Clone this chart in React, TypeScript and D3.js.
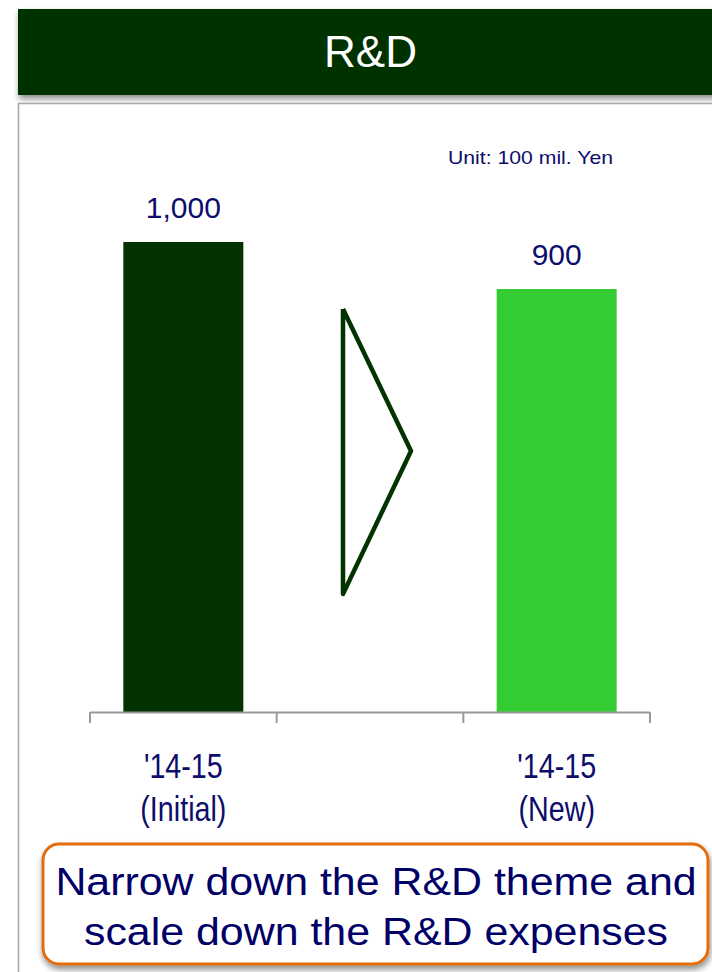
import React from "react";
import * as d3 from "d3";

// Chart data
const categories = ["'14-15\n(Initial)", "", "'14-15\n(New)"];
const values: (number | null)[] = [1000, null, 900];
const barColors = ["#033300", "none", "#33cc33"];
const valueLabels = ["1,000", "", "900"];
const title = "R&D";
const unitText = "Unit: 100 mil. Yen";
const calloutLines = ["Narrow down the R&D theme and", "scale down the R&D expenses"];

const W = 712;
const H = 972;
const NAVY = "#0d0d6b";
const SANS = "'Liberation Sans', Arial, sans-serif";

export default function App() {
  const x = d3.scaleBand<string>()
    .domain(categories.map((_, i) => String(i)))
    .range([90, 650])
    .paddingInner(0)
    .paddingOuter(0);
  const y = d3.scaleLinear().domain([0, 1000]).range([712, 242]);

  const bw = 120;
  const centerOf = (i: number) => (x(String(i)) as number) + x.bandwidth() / 2;
  const tickXs = [...categories.map((_, i) => x(String(i)) as number), 650];

  // Arrow (outlined triangle) in the empty middle band
  const mid = centerOf(1);
  const arrow = d3.line()([
    [mid - 27, 309],
    [mid + 41, 451],
    [mid - 27, 594],
    [mid - 27, 309],
  ]);

  return (
    <svg width={W} height={H} style={{ position: "absolute", left: 0, top: 0 }}>
      <defs>
        <filter id="sh" x="-5%" y="-20%" width="115%" height="150%">
          <feGaussianBlur in="SourceAlpha" stdDeviation="3" />
          <feOffset dx="1" dy="4" result="b" />
          <feComponentTransfer><feFuncA type="linear" slope="0.45" /></feComponentTransfer>
          <feMerge><feMergeNode /><feMergeNode in="SourceGraphic" /></feMerge>
        </filter>
      </defs>
      <rect x={0} y={0} width={W} height={H} fill="#fff" />

      {/* Title bar */}
      <rect x={18} y={9} width={W} height={86} fill="#033300" filter="url(#sh)" />
      <text x={370.5} y={67} textAnchor="middle" fill="#fff" fontSize={44} fontFamily={SANS}>{title}</text>

      {/* Panel border */}
      <rect x={18.5} y={103.5} width={W} height={H} fill="none" stroke="#a6a6a6" strokeWidth={1.5} />

      <text x={448} y={164} fill={NAVY} fontSize={18.5} fontFamily={SANS} textLength={165} lengthAdjust="spacingAndGlyphs">
        {unitText}
      </text>

      {/* Bars */}
      {values.map((v, i) =>
        v == null ? null : (
          <g key={i}>
            <rect x={centerOf(i) - bw / 2} y={y(v)} width={bw} height={y(0) - y(v)} fill={barColors[i]} />
            <text x={centerOf(i)} y={y(v) - 24} textAnchor="middle" fill={NAVY} fontSize={30} fontFamily={SANS}>
              {valueLabels[i]}
            </text>
          </g>
        )
      )}

      <path d={arrow || ""} fill="none" stroke="#033300" strokeWidth={4.5} strokeLinejoin="round" />

      {/* Category axis */}
      <line x1={tickXs[0]} x2={tickXs[tickXs.length - 1]} y1={712.5} y2={712.5} stroke="#999" strokeWidth={2} />
      {tickXs.map((t, i) => (
        <line key={i} x1={t} x2={t} y1={712} y2={723} stroke="#999" strokeWidth={2} />
      ))}
      {categories.map((c, i) =>
        c ? (
          <g key={i} transform={`translate(${centerOf(i)},0) scale(0.82,1)`}>
            <text textAnchor="middle" fill={NAVY} fontSize={35} fontFamily={SANS}>
              {c.split("\n").map((ln, j) => (
                <tspan key={j} x={0} y={778 + j * 43}>{ln}</tspan>
              ))}
            </text>
          </g>
        ) : null
      )}

      {/* Callout */}
      <rect x={43} y={844} width={665} height={120} rx={16} fill="#fff" stroke="#e46c0a" strokeWidth={3} filter="url(#sh)" />
      {calloutLines.map((ln, j) => (
        <g key={j} transform={`translate(376,0) scale(1.1,1)`}>
          <text x={0} y={895 + j * 50} textAnchor="middle" fill="#000066" fontSize={39} fontFamily={SANS}>
            {ln}
          </text>
        </g>
      ))}
    </svg>
  );
}
